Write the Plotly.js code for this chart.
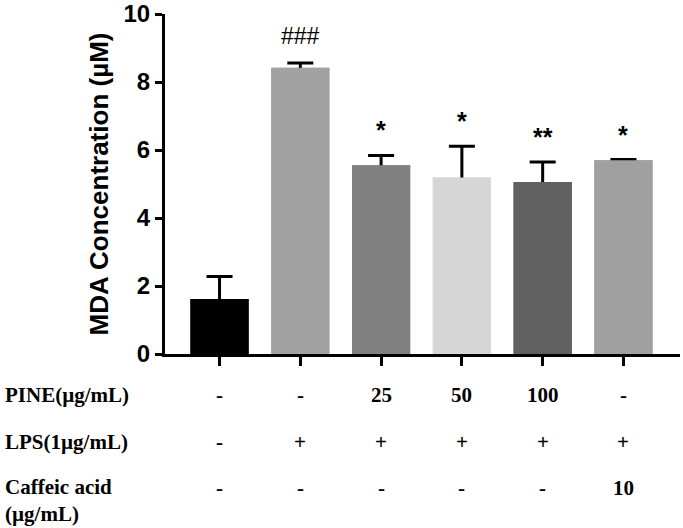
<!DOCTYPE html>
<html>
<head>
<meta charset="utf-8">
<script src="https://cdn.plot.ly/plotly-3.0.1.min.js"></script>
<style>
  html, body { margin: 0; padding: 0; background: #fff; }
  #chart { width: 683px; height: 528px; }
</style>
</head>
<body>
<div id="chart"></div>
<script>
// MDA concentration per treatment group
const groups = ['Control', 'LPS', 'PINE 25', 'PINE 50', 'PINE 100', 'Caffeic acid'];
const mdaMean = [1.62, 8.42, 5.55, 5.19, 5.06, 5.70];
const mdaSd = [0.66, 0.14, 0.29, 0.92, 0.59, 0.02];
const barColors = ['#000000', '#a2a2a2', '#808080', '#d6d6d6', '#606060', '#a0a0a0'];
const sigLabels = ['', '###', '*', '*', '**', '*'];

// treatment table under the bars
const pineRow = ['-', '-', '25', '50', '100', '-'];
const lpsRow = ['-', '+', '+', '+', '+', '+'];
const caffeicRow = ['-', '-', '-', '-', '-', '10'];
const rowNames = ['PINE(µg/mL)', 'LPS(1µg/mL)', 'Caffeic acid<br>(µg/mL)'];

const yTicks = [0, 2, 4, 6, 8, 10];

const idx = groups.map((g, i) => i);
const sansBold = { family: 'Liberation Sans, Arial, sans-serif', color: '#000', weight: 'bold' };
const serifBold = { family: 'Liberation Serif, Times New Roman, serif', color: '#000', weight: 'bold', size: 21 };

// plot area is 340px tall; convert pixel offset below axis to paper units
const plotH = 340;
const rowY = [-41 / plotH, -87.7 / plotH, -146.5 / plotH];

const annotations = [];

// significance marks above error bars
idx.forEach(i => {
    if (!sigLabels[i]) return;
    const isHash = sigLabels[i].includes('#');
    annotations.push({
        x: i, y: mdaMean[i] + mdaSd[i], xref: 'x', yref: 'y',
        text: sigLabels[i], showarrow: false,
        yanchor: 'bottom', yshift: isHash ? 12 : 9,
        font: isHash
            ? { family: 'Liberation Sans, Arial, sans-serif', size: 23, color: '#000' }
            : Object.assign({ size: 25 }, sansBold),
    });
});

// table rows
[pineRow, lpsRow, caffeicRow].forEach((row, r) => {
    row.forEach((val, i) => {
        annotations.push({
            x: i, y: r === 2 ? rowY[r] + 12.5 / plotH : rowY[r], xref: 'x', yref: 'paper',
            text: val, showarrow: false, yanchor: 'middle',
            font: serifBold,
        });
    });
    annotations.push({
        x: -162 / 515, y: rowY[r], xref: 'paper', yref: 'paper',
        text: rowNames[r], showarrow: false, xanchor: 'left', yanchor: 'middle', align: 'left',
        font: serifBold,
    });
});

const layout = {
    width: 683,
    height: 528,
    margin: { l: 165, r: 3, t: 14, b: 174 },
    paper_bgcolor: '#fff',
    plot_bgcolor: '#fff',
    showlegend: false,
    barmode: 'overlay',
    bargap: 0.28,
    xaxis: {
        range: [-0.675, 5.70],
        tickvals: idx,
        showticklabels: false,
        ticks: 'outside', ticklen: 9, tickwidth: 3, tickcolor: '#000',
        showline: true, linewidth: 3, linecolor: '#000',
        showgrid: false, zeroline: false,
    },
    yaxis: {
        range: [0, 10],
        tickvals: yTicks,
        ticks: 'outside', ticklen: 7, tickwidth: 3, tickcolor: '#000',
        tickfont: Object.assign({ size: 24 }, sansBold),
        showline: true, linewidth: 3, linecolor: '#000',
        showgrid: false, zeroline: false,
        title: { text: 'MDA Concentration (µM)', font: Object.assign({ size: 26 }, sansBold), standoff: 8 },
    },
    annotations: annotations,
};

// first trace carries the error bars, second repaints the bars so only the upper half shows
Plotly.newPlot('chart', [{
    type: 'bar',
    x: idx,
    y: mdaMean,
    marker: { color: barColors, line: { width: 0 } },
    error_y: { type: 'data', array: mdaSd, color: '#000', thickness: 3, width: 13 },
    hoverinfo: 'none',
}, {
    type: 'bar',
    x: idx,
    y: mdaMean,
    marker: { color: barColors, line: { width: 0 } },
    hoverinfo: 'none',
}], layout, { displayModeBar: false, staticPlot: true });
</script>
</body>
</html>
